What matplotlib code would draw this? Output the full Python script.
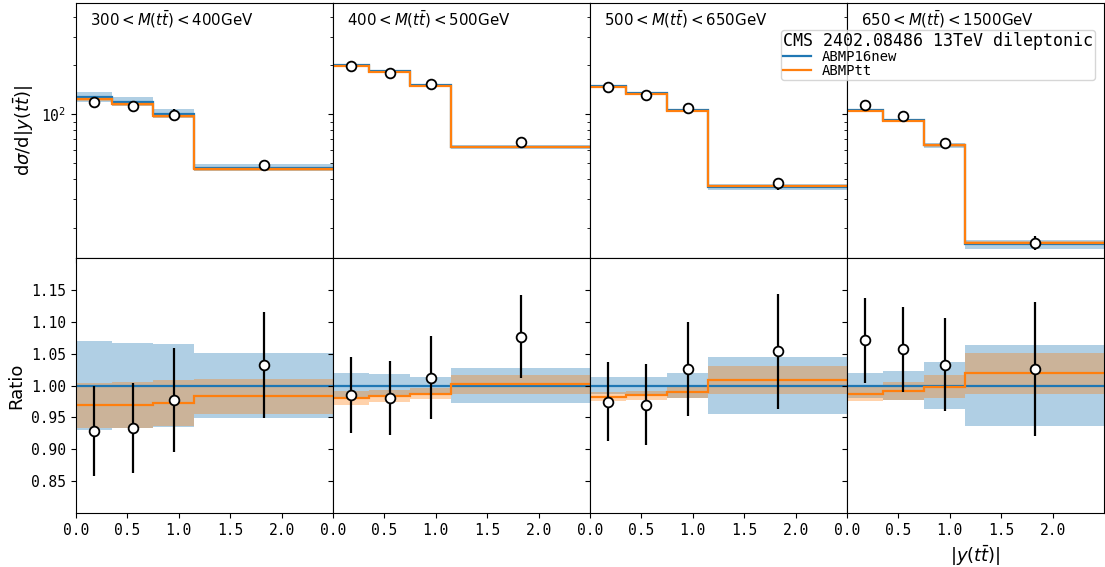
import numpy as np
import matplotlib.pyplot as plt
from matplotlib.ticker import FormatStrFormatter

plt.rcParams['font.family'] = 'monospace'
plt.rcParams['xtick.labelsize'] = 10.5
plt.rcParams['ytick.labelsize'] = 10.5

# |y(tt)| binning, same in every mass slice
edges = [0.0, 0.35, 0.75, 1.15, 2.5]
mass_labels = [r"$300 < M(t\bar{t}) < 400$GeV",
               r"$400 < M(t\bar{t}) < 500$GeV",
               r"$500 < M(t\bar{t}) < 650$GeV",
               r"$650 < M(t\bar{t}) < 1500$GeV"]

# measured cross sections (one row per mass slice)
data_xsec = [[119.4, 111.8, 98.7, 48.4],
             [198.0, 180.5, 153.5, 67.3],
             [146.6, 131.9, 108.6, 37.5],
             [113.4, 97.0, 66.5, 16.2]]
data_err = [[9.1, 8.4, 8.3, 3.9],
            [12.1, 10.7, 9.8, 4.1],
            [9.4, 8.6, 7.8, 3.2],
            [7.1, 6.1, 4.7, 1.66]]

# predictions
abmp16_xsec = [[128.6, 119.8, 101.0, 46.9],
               [201.0, 184.0, 151.6, 62.5],
               [150.4, 136.0, 105.8, 35.6],
               [105.9, 91.8, 64.4, 15.8]]
abmp16_err = [[8.9, 8.0, 6.6, 2.4],
              [4.0, 3.3, 2.0, 1.75],
              [2.0, 1.8, 2.0, 1.57],
              [2.0, 2.1, 2.35, 1.0]]
abmptt_xsec = [[124.6, 116.2, 98.2, 46.1],
               [197.2, 180.9, 149.7, 62.6],
               [147.8, 133.9, 104.8, 35.9],
               [104.5, 91.0, 64.3, 16.1]]
abmptt_err = [[4.6, 4.3, 3.6, 1.27],
              [2.2, 1.7, 1.2, 0.9],
              [1.1, 0.9, 1.0, 0.8],
              [1.2, 1.3, 1.2, 0.5]]

centers = 0.5 * (np.array(edges[1:]) + np.array(edges[:-1]))

fig, axes = plt.subplots(2, 4, figsize=(11.05, 5.67), dpi=100, sharex=True, sharey='row')
fig.subplots_adjust(left=0.0688, right=0.999, top=0.9947, bottom=0.0952, hspace=0, wspace=0)

for i in range(4):
    ax = axes[0, i]
    rax = axes[1, i]
    ref = np.array(abmp16_xsec[i])
    ref_e = np.array(abmp16_err[i])
    tt = np.array(abmptt_xsec[i])
    tt_e = np.array(abmptt_err[i])
    dat = np.array(data_xsec[i])
    dat_e = np.array(data_err[i])

    # cross section panel
    ax.stairs(ref + ref_e, edges, baseline=ref - ref_e, fill=True, color='C0', alpha=0.35, lw=0)
    ax.stairs(tt + tt_e, edges, baseline=tt - tt_e, fill=True, color='C1', alpha=0.35, lw=0)
    ax.stairs(ref, edges, baseline=None, color='C0', lw=1.6, label='ABMP16new')
    ax.stairs(tt, edges, baseline=None, color='C1', lw=1.6, label='ABMPtt')
    ax.errorbar(centers, dat, yerr=dat_e, fmt='o', ms=7, mfc='white', mec='black', mew=1.3,
                ecolor='black', elinewidth=1.6, zorder=5)
    ax.text(0.055, 0.975, mass_labels[i], transform=ax.transAxes, ha='left', va='top',
            fontsize=10.8, family='DejaVu Sans')

    # ratio to ABMP16new
    rax.stairs(1 + ref_e / ref, edges, baseline=1 - ref_e / ref, fill=True, color='C0', alpha=0.35, lw=0)
    rax.stairs((tt + tt_e) / ref, edges, baseline=(tt - tt_e) / ref, fill=True, color='C1', alpha=0.35, lw=0)
    rax.stairs(ref / ref, edges, baseline=None, color='C0', lw=1.6)
    rax.stairs(tt / ref, edges, baseline=None, color='C1', lw=1.6)
    rax.errorbar(centers, dat / ref, yerr=dat_e / ref, fmt='o', ms=7, mfc='white', mec='black', mew=1.3,
                 ecolor='black', elinewidth=1.6, zorder=5)
    rax.set_xticks([0.0, 0.5, 1.0, 1.5, 2.0])

axes[0, 0].set_yscale('log')
axes[0, 0].set_ylim(13, 485)
axes[1, 0].set_ylim(0.8, 1.2)
axes[1, 0].set_yticks([0.85, 0.90, 0.95, 1.00, 1.05, 1.10, 1.15])
axes[1, 0].yaxis.set_major_formatter(FormatStrFormatter('%.2f'))
axes[1, 0].set_xlim(0, 2.5)

axes[0, 0].set_ylabel(r"d$\sigma$/d$|y(t\bar{t})|$", fontsize=13, family='DejaVu Sans')
axes[1, 0].set_ylabel("Ratio", fontsize=13, family='DejaVu Sans')
axes[1, 3].set_xlabel(r"$|y(t\bar{t})|$", fontsize=13, family='DejaVu Sans')

axes[0, 3].legend(title='CMS 2402.08486 13TeV dileptonic', loc='upper right',
                  bbox_to_anchor=(0.992, 0.922), prop={'family': 'monospace', 'size': 10},
                  title_fontproperties={'family': 'monospace', 'size': 12},
                  borderpad=0.15, labelspacing=0.0, alignment='left')

fig.savefig('out.png', dpi=100)
